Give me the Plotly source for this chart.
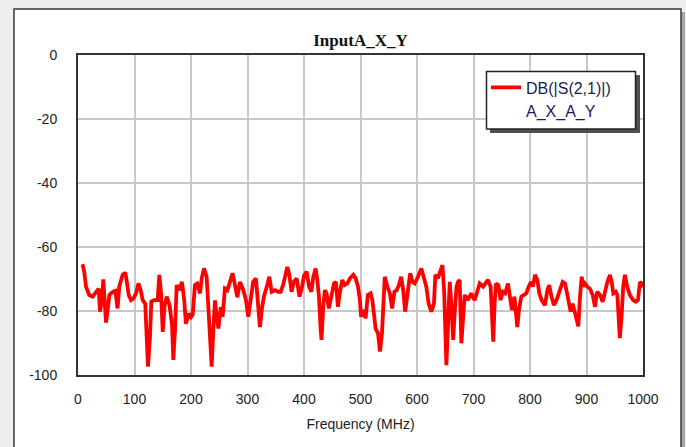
import plotly.graph_objects as go

# ---- data ----
freq_mhz = [8, 11, 14.2, 20, 26, 32, 36.6, 39, 42.5, 44.8, 47.2, 49.6, 52.5, 55.5, 61.4, 66, 70, 73, 79, 83.8,
            86, 89.7, 93.8, 98, 102.7, 107, 111, 114.5, 119, 121.5, 123.9, 127.4, 129.8, 135, 141, 144, 147, 150,
            153, 157, 162, 166.5, 168.7, 172, 174.6, 179.3, 184, 188, 191, 196,
            200, 203, 207, 211, 216, 219, 223, 227.7, 230.7, 233.6, 236.6, 239.5, 242.5, 245.5, 248.5, 252.7, 256,
            260, 264.3, 269, 273.5, 277.8, 282, 286.7, 292.6, 297.3, 301.4, 305.5, 310, 314.9, 319, 322, 325.6, 329,
            335, 338.6, 342.7, 348.6, 354.5, 358.7, 363, 366, 370.5, 374, 378, 382, 387, 392, 396,
            400, 404.7, 409, 413, 416.5, 420.6, 423.6, 426.5, 429.5, 431, 434, 437, 440, 444, 448.4, 453, 456.6, 460,
            463.7, 467.8, 472, 476.7, 481.4, 487.3, 491.4, 495.6, 499, 501, 505, 509, 513, 518, 521, 524, 526.8, 531,
            534.5, 538, 540.4, 543, 547.5, 552, 556, 560, 564, 568, 572, 575.6, 579, 583, 588, 592, 596,
            601.8, 607.7, 612.4, 616.5, 620.6, 625.4, 630, 632.5, 637, 641, 645, 648, 650, 652, 655, 658, 661, 664,
            667, 670, 672.5, 675.5, 678.5, 681.4, 684.4, 690, 696, 702, 707, 711, 717, 721.6, 725.6, 730.3, 732.7,
            735, 737.3, 740, 744, 748, 752, 756, 761, 764.6, 768, 772.5, 777.5, 780.5, 784.6, 789.4, 793.4, 797.6,
            802, 805, 809, 813, 816.5, 820.6, 826.5, 830.7, 834, 838, 842.5, 847, 852, 857.8, 862, 866, 869.6, 872,
            875.5, 879.6, 882.6, 885.5, 888.5, 891.5, 894.4, 897.3, 901.5, 906, 911, 915, 919, 924, 928.6, 932.7,
            937, 941.6, 944.6, 947.5, 952, 954.6, 957, 959, 962, 965, 968, 972, 976.7, 982.6, 987, 991, 994.7,
            997.5, 1000]

s21_db = [-65.4, -67.7, -72.4, -75.0, -75.5, -74.0, -73.0, -80.2, -76.6, -70.1, -76.6, -83.6, -79.7, -75.0, -74.0,
          -73.7, -79.2, -72.4, -68.7, -68.0, -70.3, -75.0, -76.6, -76.1, -74.5, -71.4, -73.5, -76.6, -77.7, -88.0,
          -97.4, -88.0, -77.0, -76.6, -76.6, -68.7, -74.5, -86.5, -78.7, -75.5, -78.2, -84.4, -95.3, -85.0, -71.9,
          -73.5, -70.9, -76.6, -84.0, -80.8,
          -81.9, -81.1, -71.9, -71.4, -74.5, -69.8, -66.7, -69.3, -80.8, -91.3, -97.4, -86.0, -76.7, -81.8, -85.5,
          -78.8, -81.8, -73.0, -73.5, -70.9, -68.2, -71.9, -75.7, -70.9, -73.5, -76.6, -81.8, -76.6, -70.9, -69.8,
          -77.1, -85.0, -79.2, -75.5, -71.9, -69.3, -74.0, -73.5, -74.0, -74.0, -71.9, -69.3, -66.2, -68.7, -74.0,
          -70.9, -69.8, -75.5, -73.0,
          -69.0, -67.7, -72.4, -74.0, -69.3, -66.7, -70.3, -75.5, -86.0, -89.0, -78.7, -73.5, -74.5, -79.2, -75.5,
          -71.4, -70.9, -78.7, -74.0, -70.3, -71.9, -71.4, -69.8, -68.7, -69.8, -72.4, -76.6, -81.8, -79.7, -82.3,
          -75.0, -74.5, -76.6, -81.8, -85.5, -87.0, -92.7, -87.0, -77.1, -69.3, -72.4, -74.5, -79.2, -74.0, -73.5,
          -71.9, -69.3, -73.5, -80.2, -75.7, -68.2, -70.9, -71.4,
          -69.3, -66.7, -69.8, -72.4, -77.7, -80.2, -77.7, -68.7, -69.8, -67.2, -65.7, -73.5, -90.1, -96.9, -84.0,
          -70.9, -78.7, -89.0, -79.7, -72.4, -70.9, -70.3, -90.1, -81.8, -75.0, -76.6, -74.5, -76.6, -74.0, -71.4,
          -72.4, -71.4, -70.3, -72.4, -80.7, -89.6, -77.7, -71.4, -71.9, -76.6, -74.0, -74.5, -71.4, -75.0, -79.7,
          -75.5, -85.0, -79.7, -75.5, -75.0, -74.5, -72.4,
          -70.9, -72.4, -68.7, -70.3, -74.5, -76.6, -78.2, -73.5, -71.9, -75.5, -78.2, -76.6, -74.0, -70.9, -71.4,
          -75.0, -77.1, -80.2, -77.7, -81.1, -82.8, -84.8, -75.5, -69.3, -72.4, -71.4, -72.4, -73.0, -75.0, -78.7,
          -74.0, -75.0, -77.1, -73.5, -70.9, -68.7, -70.9, -74.5, -74.0, -75.0, -82.8, -88.5, -81.8, -72.4, -68.7,
          -72.4, -75.0, -76.6, -77.1, -76.6, -70.9, -71.4, -72.6]

x_ticks = [0, 100, 200, 300, 400, 500, 600, 700, 800, 900, 1000]
y_ticks = [0, -20, -40, -60, -80, -100]
title_text = "InputA_X_Y"
trace_name = "DB(|S(2,1)|)"
source_name = "A_X_A_Y"
x_title = "Frequency (MHz)"

# ---- layout geometry (pixels) ----
W, H = 686, 447
L, R, T, B = 78, 43, 55, 72
PW, PH = W - L - R, H - T - B


def px(x):
    return (x - L) / PW


def py(y):
    return (H - B - y) / PH


fig = go.Figure()
fig.add_trace(go.Scatter(x=freq_mhz, y=s21_db, mode="lines", name=trace_name,
                         line=dict(color="#ff0000", width=3.8)))
fig.add_trace(go.Scatter(x=[None], y=[None], mode="lines", name=source_name,
                         line=dict(color="rgba(0,0,0,0)", width=0), hoverinfo="skip"))

shapes = [
    # outer panel shadow + panel
    dict(type="rect", xref="paper", yref="paper", x0=px(17), x1=px(685), y0=py(470), y1=py(12),
         fillcolor="#a6a6a6", line=dict(width=0), layer="below"),
    dict(type="rect", xref="paper", yref="paper", x0=px(14), x1=px(681), y0=py(470), y1=py(9),
         fillcolor="#ffffff", line=dict(color="#3a3a3a", width=1.5), layer="below"),
    # legend shadow + box
    dict(type="rect", xref="paper", yref="paper", x0=px(490), x1=px(640), y0=py(133), y1=py(75),
         fillcolor="#505050", line=dict(width=0), layer="above"),
    dict(type="rect", xref="paper", yref="paper", x0=px(486.5), x1=px(635.5), y0=py(129), y1=py(71.5),
         fillcolor="#ffffff", line=dict(color="#222222", width=1.5), layer="above"),
]

axis_font = dict(family="Liberation Sans, Arial, sans-serif", size=14, color="#222222")

fig.update_layout(
    width=W, height=H,
    margin=dict(l=L, r=R, t=T, b=B, autoexpand=False),
    paper_bgcolor="#eeeeee",
    plot_bgcolor="#ffffff",
    shapes=shapes,
    title=dict(text="<b>" + title_text + "</b>", x=0.5, xref="paper", xanchor="center",
               y=1 - 40 / H, yref="container", yanchor="middle",
               font=dict(family="Liberation Serif, Times New Roman, serif", size=17, color="#111111")),
    showlegend=True,
    legend=dict(x=px(486), xanchor="left", y=py(70.5), yanchor="top",
                bgcolor="rgba(0,0,0,0)", borderwidth=0,
                font=dict(family="Liberation Sans, Arial, sans-serif", size=16, color="#1c1c50"),
                traceorder="normal"),
    xaxis=dict(range=[0, 1000], tickmode="array", tickvals=x_ticks, ticktext=[str(v) for v in x_ticks],
               showgrid=True, gridcolor="#c8c8c8", gridwidth=2, zeroline=False,
               showline=True, linecolor="#333333", linewidth=2, mirror=True,
               ticks="", ticklabelstandoff=10, tickfont=axis_font,
               title=dict(text=x_title, font=axis_font, standoff=13)),
    yaxis=dict(range=[-100, 0], tickmode="array", tickvals=y_ticks, ticktext=[str(v) for v in y_ticks],
               showgrid=True, gridcolor="#c8c8c8", gridwidth=2, zeroline=False,
               showline=True, linecolor="#333333", linewidth=2, mirror=True,
               ticks="", ticklabelstandoff=16, tickfont=axis_font),
)

fig.write_html("out.html")
